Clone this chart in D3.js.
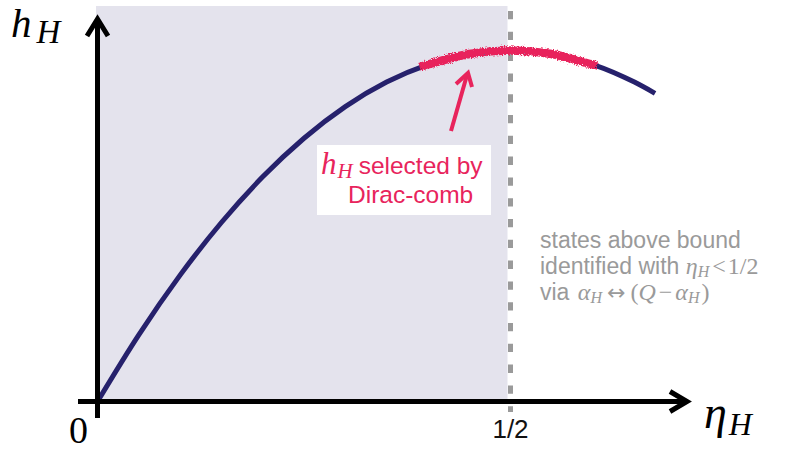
<!DOCTYPE html>
<html>
<head>
<meta charset="utf-8">
<script src="https://cdn.jsdelivr.net/npm/d3@7/dist/d3.min.js"></script>
<style>
  body { margin: 0; background: #fff; }
  svg { display: block; }
</style>
</head>
<body>
<script>

// values (eta_H, h_H)
const etaVals = [0, 0.05, 0.1, 0.15, 0.2, 0.25, 0.3, 0.35, 0.4, 0.45, 0.5, 0.55, 0.6, 0.65, 0.675];
const hVals   = [0, 0.0475, 0.09, 0.1275, 0.16, 0.1875, 0.21, 0.2275, 0.24, 0.2475, 0.25, 0.2475, 0.24, 0.2275, 0.2195];
const selectedRange = [0.39, 0.605];
const tickVals = [0, 0.5];
const tickLabels = ["0", "1/2"];
const boundEta = 0.5;

const width = 791, height = 450;
const navy = "#26216c", pink = "#e8245c", grey = "#9a9a9a";

const x = d3.scaleLinear().domain([0, 0.5]).range([97.5, 510.5]);
const y = d3.scaleLinear().domain([0, 0.25]).range([401.5, 50.5]);

const pts = etaVals.map((e, i) => ({ eta: e, h: hVals[i] }));

const svg = d3.select("body").append("svg")
    .attr("width", width)
    .attr("height", height);

const defs = svg.append("defs");
const rough = defs.append("filter").attr("id", "rough")
    .attr("x", "-10%").attr("y", "-50%").attr("width", "120%").attr("height", "200%");
rough.append("feTurbulence").attr("type", "fractalNoise").attr("baseFrequency", 1.1)
    .attr("numOctaves", 2).attr("seed", 3).attr("result", "noise");
rough.append("feDisplacementMap").attr("in", "SourceGraphic").attr("in2", "noise")
    .attr("scale", 5).attr("xChannelSelector", "R").attr("yChannelSelector", "G");

// shaded region below the bound
svg.append("rect")
    .attr("x", x(0) - 1.5)
    .attr("y", 6)
    .attr("width", x(boundEta) - 3 - (x(0) - 1.5))
    .attr("height", y(0) - 6)
    .attr("fill", "#e4e3ed");

// dashed line at eta = 1/2
svg.append("line")
    .attr("x1", x(boundEta)).attr("x2", x(boundEta))
    .attr("y1", 11).attr("y2", 412)
    .attr("stroke", grey)
    .attr("stroke-width", 5)
    .attr("stroke-dasharray", "8.3,12.5");

const line = d3.line()
    .x(d => x(d.eta))
    .y(d => y(d.h))
    .curve(d3.curveMonotoneX);

svg.append("path")
    .datum(pts)
    .attr("d", line)
    .attr("fill", "none")
    .attr("stroke", navy)
    .attr("stroke-width", 5);

// selected part of the curve: same points, cut at the selected range
const inRange = pts.filter(d => d.eta > selectedRange[0] && d.eta < selectedRange[1]);
const hAt = e => {
  const i = d3.bisector(d => d.eta).right(pts, e) - 1;
  const a = pts[i], b = pts[i + 1];
  return a.h + (b.h - a.h) * (e - a.eta) / (b.eta - a.eta);
};
const selPts = [{ eta: selectedRange[0], h: hAt(selectedRange[0]) + 0.0007 }]
    .concat(inRange, [{ eta: selectedRange[1], h: hAt(selectedRange[1]) + 0.0007 }]);

svg.append("path")
    .datum(selPts)
    .attr("d", line)
    .attr("fill", "none")
    .attr("stroke", pink)
    .attr("stroke-width", 8.5)
    .attr("filter", "url(#rough)");

// axes
const axes = svg.append("g")
    .attr("fill", "none")
    .attr("stroke", "#000")
    .attr("stroke-width", 5);

axes.append("line")
    .attr("x1", x(0)).attr("x2", x(0))
    .attr("y1", 418).attr("y2", 20);
axes.append("path")
    .attr("d", `M${x(0) - 10.5},36 L${x(0)},19 L${x(0) + 10.5},36`);

axes.append("line")
    .attr("x1", 78).attr("x2", 686)
    .attr("y1", y(0)).attr("y2", y(0));
axes.append("path")
    .attr("d", `M670,${y(0) - 10} L687,${y(0)} L670,${y(0) + 10}`);

// tick labels
svg.append("text")
    .attr("x", x(tickVals[0]) - 19)
    .attr("y", 443)
    .attr("font-family", "Liberation Serif")
    .attr("font-size", 38)
    .attr("text-anchor", "middle")
    .text(tickLabels[0]);

svg.append("text")
    .attr("x", x(tickVals[1]))
    .attr("y", 438)
    .attr("font-family", "Liberation Sans")
    .attr("font-size", 26)
    .attr("text-anchor", "middle")
    .attr("fill", "#111")
    .text(tickLabels[1]);

// axis titles
const yTitle = svg.append("text")
    .attr("x", 11).attr("y", 37)
    .attr("font-family", "Liberation Serif")
    .attr("font-style", "italic");
yTitle.append("tspan").attr("font-size", 41).text("h");
yTitle.append("tspan").attr("font-size", 33).attr("dy", 6).attr("dx", 5).text("H");

const xTitle = svg.append("text")
    .attr("x", 704).attr("y", 428)
    .attr("font-family", "Liberation Serif")
    .attr("font-style", "italic");
xTitle.append("tspan").attr("font-size", 46).text("η");
xTitle.append("tspan").attr("font-size", 32).attr("dy", 7).attr("dx", 2).text("H");

// annotation box
svg.append("rect")
    .attr("x", 317).attr("y", 145)
    .attr("width", 174).attr("height", 70)
    .attr("fill", "#fff");

const a1 = svg.append("text")
    .attr("x", 321).attr("y", 174)
    .attr("fill", pink);
a1.append("tspan").attr("font-family", "Liberation Serif").attr("font-style", "italic")
    .attr("font-size", 31).text("h");
a1.append("tspan").attr("font-family", "Liberation Serif").attr("font-style", "italic")
    .attr("font-size", 21).attr("dy", 4).attr("dx", 1).text("H");
a1.append("tspan").attr("font-family", "Liberation Sans")
    .attr("font-size", 24.5).attr("dy", -4).attr("dx", 6).text("selected by");

svg.append("text")
    .attr("x", 348).attr("y", 203)
    .attr("fill", pink)
    .attr("font-family", "Liberation Sans")
    .attr("font-size", 24.5)
    .text("Dirac-comb");

// pink arrow
const arr = svg.append("g")
    .attr("fill", "none")
    .attr("stroke", pink)
    .attr("stroke-width", 4);
arr.append("line").attr("x1", 451).attr("y1", 131).attr("x2", 467).attr("y2", 75);
arr.append("path").attr("d", "M456,84 L468,73 L472,87");

// grey note on the right
const note = svg.append("g")
    .attr("fill", grey)
    .attr("font-family", "Liberation Sans")
    .attr("font-size", 23);

note.append("text").attr("x", 540).attr("y", 248).text("states above bound");

const n2 = note.append("text").attr("x", 540).attr("y", 274);
n2.append("tspan").text("identified with ");
n2.append("tspan").attr("font-family", "Liberation Serif").attr("font-style", "italic")
    .attr("font-size", 24).text("η");
n2.append("tspan").attr("font-family", "Liberation Serif").attr("font-style", "italic")
    .attr("font-size", 16).attr("dy", 3).text("H");
n2.append("tspan").attr("font-family", "Liberation Serif").attr("font-size", 24)
    .attr("dy", -3).attr("dx", 3).text("<");
n2.append("tspan").attr("font-family", "Liberation Serif").attr("font-size", 24)
    .attr("dx", 2).text("1/2");

const n3 = note.append("text").attr("x", 540).attr("y", 300);
n3.append("tspan").text("via ");
n3.append("tspan").attr("font-family", "Liberation Serif").attr("font-style", "italic")
    .attr("font-size", 24).attr("dx", 2).text("α");
n3.append("tspan").attr("font-family", "Liberation Serif").attr("font-style", "italic")
    .attr("font-size", 16).attr("dy", 3).text("H");
n3.append("tspan").attr("font-family", "DejaVu Sans").attr("font-size", 22)
    .attr("dy", -3).attr("dx", 5).text("↔");
n3.append("tspan").attr("font-family", "Liberation Serif").attr("font-size", 24)
    .attr("dx", 5).text("(");
n3.append("tspan").attr("font-family", "Liberation Serif").attr("font-style", "italic")
    .attr("font-size", 24).text("Q");
n3.append("tspan").attr("font-family", "Liberation Serif").attr("font-size", 24)
    .attr("dx", 3).text("−");
n3.append("tspan").attr("font-family", "Liberation Serif").attr("font-style", "italic")
    .attr("font-size", 24).attr("dx", 3).text("α");
n3.append("tspan").attr("font-family", "Liberation Serif").attr("font-style", "italic")
    .attr("font-size", 16).attr("dy", 3).text("H");
n3.append("tspan").attr("font-family", "Liberation Serif").attr("font-size", 24)
    .attr("dy", -3).attr("dx", 2).text(")");

</script>
</body>
</html>
